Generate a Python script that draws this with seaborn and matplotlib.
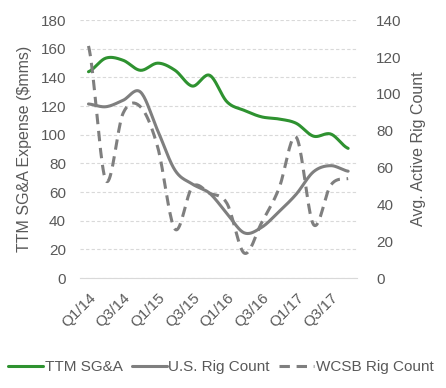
import numpy as np
import pandas as pd
import matplotlib
matplotlib.use("Agg")
import matplotlib.pyplot as plt
import seaborn as sns

quarters = ["Q1/14", "Q2/14", "Q3/14", "Q4/14", "Q1/15", "Q2/15", "Q3/15", "Q4/15",
            "Q1/16", "Q2/16", "Q3/16", "Q4/16", "Q1/17", "Q2/17", "Q3/17", "Q4/17"]
sga = [144, 153.5, 152, 145, 150, 145, 134, 141.5, 123, 117, 112.5, 111, 108, 99, 100.5, 90.5]
us_rigs = [94.5, 93, 96.5, 101, 80, 58.5, 51, 46, 35, 24.5, 27.5, 36, 45.5, 57.7, 61, 58]
wcsb_rigs = [126, 53, 89.5, 93, 71, 26.5, 49.5, 46, 40.5, 13.5, 30, 48.5, 76.5, 29, 50.5, 54]

text_col = "#595959"
green = "#2e9230"
gray = "#7f7f7f"


def smooth(vals, n=20):
    # catmull-rom curve through the points, like excel's smoothed line
    p = np.asarray(vals, dtype=float)
    pts = np.concatenate([[p[0]], p, [p[-1]]])
    xs, ys = [], []
    for i in range(len(p) - 1):
        p0, p1, p2, p3 = pts[i], pts[i + 1], pts[i + 2], pts[i + 3]
        t = np.linspace(0, 1, n, endpoint=False)
        y = 0.5 * (2 * p1 + (-p0 + p2) * t + (2 * p0 - 5 * p1 + 4 * p2 - p3) * t ** 2
                   + (-p0 + 3 * p1 - 3 * p2 + p3) * t ** 3)
        xs.extend(i + t)
        ys.extend(y)
    xs.append(len(p) - 1)
    ys.append(p[-1])
    return pd.DataFrame({"x": xs, "y": ys})


sns.set_style("white")
plt.rcParams["font.family"] = ["Liberation Sans", "DejaVu Sans"]

fig = plt.figure(figsize=(4.46, 3.88), dpi=100)
ax = fig.add_axes([0.179, 0.2835, 0.621, 0.6645])
ax2 = ax.twinx()

sns.lineplot(data=smooth(sga), x="x", y="y", ax=ax, color=green, linewidth=2.2,
             label="TTM SG&A", legend=False)
sns.lineplot(data=smooth(us_rigs), x="x", y="y", ax=ax2, color=gray, linewidth=2.2,
             label="U.S. Rig Count", legend=False)
sns.lineplot(data=smooth(wcsb_rigs), x="x", y="y", ax=ax2, color=gray, linewidth=2.2,
             linestyle=(0, (3.4, 2.2)), label="WCSB Rig Count", legend=False)

ax.set_xlim(-0.5, 15.5)
ax.set_ylim(0, 180)
ax2.set_ylim(0, 140)
ax.set_yticks(range(0, 181, 20))
ax2.set_yticks(range(0, 141, 20))
ax.set_xticks(range(0, 16, 2))
ax.set_xticklabels(quarters[::2], rotation=45, ha="right", rotation_mode="anchor")

ax.yaxis.grid(True, color="#d9d9d9", linestyle=(0, (3, 2)), linewidth=0.8)
ax.set_axisbelow(True)
for a in (ax, ax2):
    for s in a.spines.values():
        s.set_visible(False)
    a.tick_params(length=0, labelsize=11, colors=text_col)
ax.spines["bottom"].set_visible(True)
ax.spines["bottom"].set_color("#d9d9d9")
ax.tick_params(axis="y", pad=10)
ax.tick_params(axis="x", pad=9)
ax2.tick_params(axis="y", pad=14)

ax.set_xlabel("")
ax.set_ylabel("TTM SG&A Expense ($mms)", fontsize=11.5, color=text_col, labelpad=6)
ax2.set_ylabel("Avg. Active Rig Count", fontsize=11.5, color=text_col, labelpad=7)

h1, l1 = ax.get_legend_handles_labels()
h2, l2 = ax2.get_legend_handles_labels()
fig.legend(h1 + h2, l1 + l2, loc="center", bbox_to_anchor=(0.495, 0.054), ncol=3,
           frameon=False, fontsize=11, labelcolor=text_col, handlelength=2.3,
           handletextpad=0.1, columnspacing=0.6)

fig.savefig("out.png", dpi=100)
